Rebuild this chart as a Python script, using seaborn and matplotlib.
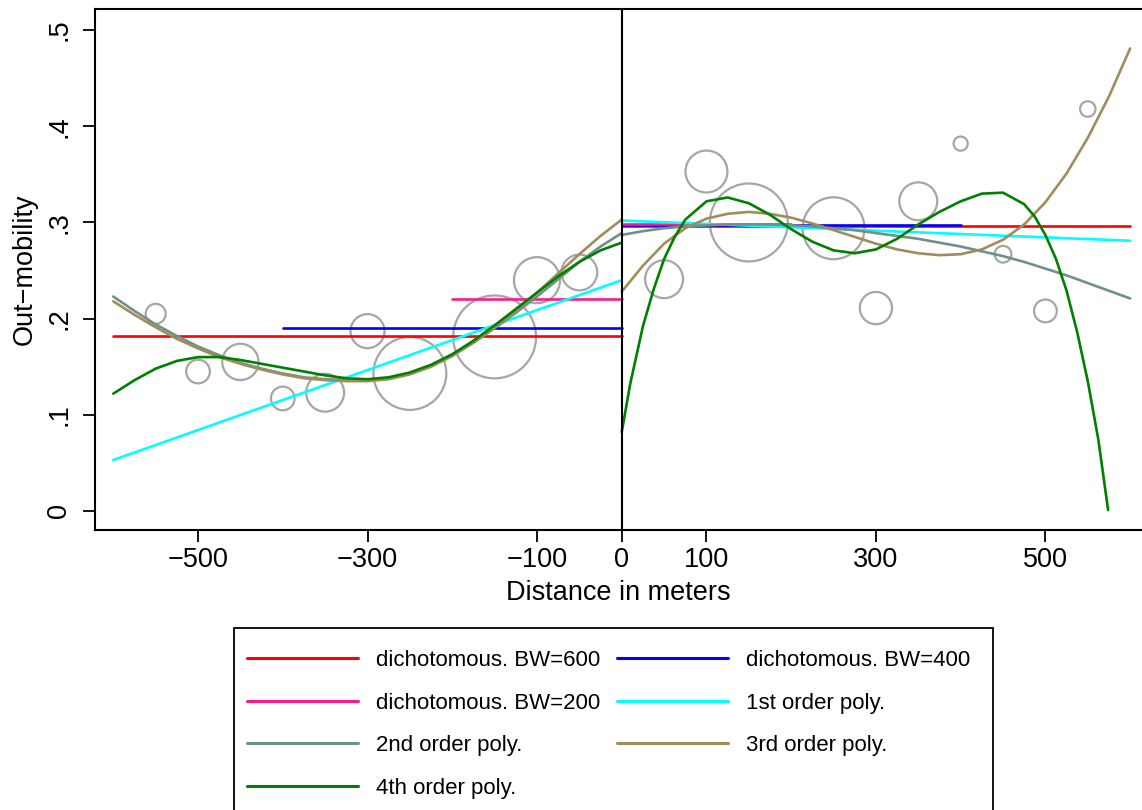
import matplotlib
matplotlib.use("Agg")
import matplotlib.pyplot as plt
import seaborn as sns
from matplotlib.lines import Line2D
from matplotlib.patches import Rectangle

# ----------------------------------------------------------
# Data
# ----------------------------------------------------------
# binned means, weight = observations per 50 m bin
bin_x = [-550, -500, -450, -400, -350, -300, -250, -150, -100, -50,
         50, 100, 150, 250, 300, 350, 400, 450, 500, 550]
bin_y = [0.205, 0.145, 0.155, 0.117, 0.123, 0.187, 0.143, 0.181, 0.240, 0.248,
         0.241, 0.353, 0.300, 0.294, 0.211, 0.322, 0.382, 0.267, 0.208, 0.418]
bin_n = [10, 14, 33, 14, 36, 29, 133, 172, 53, 32,
         36, 44, 152, 96, 26, 36, 5, 7, 13, 6]

# dichotomous (step) fits for three bandwidths
bandwidths = [600, 400, 200]
dich_left = [0.182, 0.190, 0.220]
dich_right = [0.296, 0.297, 0.298]

# linear fit
lin_left_x = [-600, 0]
lin_left_y = [0.053, 0.240]
lin_right_x = [0, 600]
lin_right_y = [0.302, 0.281]

# higher order fits, left of cutoff
left_x = [-600, -575, -550, -525, -500, -475, -450, -425, -400, -375, -350, -325, -300,
          -275, -250, -225, -200, -175, -150, -125, -100, -75, -50, -25, 0]
poly2_left = [0.223, 0.208, 0.194, 0.182, 0.171, 0.162, 0.154, 0.148, 0.143, 0.139, 0.137, 0.136,
              0.136, 0.138, 0.143, 0.151, 0.162, 0.175, 0.190, 0.206, 0.223, 0.241, 0.259, 0.275, 0.289]
poly3_left = [0.218, 0.204, 0.191, 0.179, 0.169, 0.160, 0.153, 0.147, 0.142, 0.138, 0.136, 0.135,
              0.135, 0.137, 0.142, 0.150, 0.161, 0.175, 0.191, 0.208, 0.227, 0.247, 0.267, 0.286, 0.303]
poly4_left = [0.122, 0.136, 0.148, 0.156, 0.160, 0.160, 0.157, 0.153, 0.149, 0.145, 0.141, 0.138,
              0.137, 0.139, 0.144, 0.152, 0.163, 0.177, 0.193, 0.210, 0.227, 0.244, 0.259, 0.271, 0.279]

# higher order fits, right of cutoff
right_x = [0, 25, 50, 75, 100, 125, 150, 175, 200, 225, 250, 275, 300,
           325, 350, 375, 400, 425, 450, 475, 500, 525, 550, 575, 600]
poly2_right = [0.287, 0.291, 0.294, 0.296, 0.297, 0.298, 0.298, 0.298, 0.297, 0.296, 0.294, 0.292, 0.289,
               0.286, 0.283, 0.279, 0.275, 0.270, 0.265, 0.259, 0.252, 0.245, 0.237, 0.229, 0.221]
poly3_right = [0.228, 0.255, 0.278, 0.294, 0.304, 0.309, 0.311, 0.309, 0.305, 0.299, 0.292, 0.285, 0.278,
               0.272, 0.268, 0.266, 0.267, 0.272, 0.282, 0.298, 0.321, 0.351, 0.388, 0.431, 0.481]
poly4_right_x = [0, 10, 25, 37.5, 50, 62.5, 75, 100, 125, 150, 175, 200, 225, 250, 275,
                 300, 325, 350, 375, 400, 425, 450, 475, 487.5, 500, 512.5, 525, 537.5, 550, 562.5, 574]
poly4_right = [0.082, 0.132, 0.192, 0.230, 0.262, 0.285, 0.303, 0.322, 0.326, 0.320, 0.308, 0.293, 0.280,
               0.271, 0.268, 0.272, 0.283, 0.298, 0.311, 0.322, 0.330, 0.331, 0.319, 0.306, 0.287,
               0.262, 0.229, 0.186, 0.135, 0.074, 0.001]

labels = ["dichotomous. BW=600", "dichotomous. BW=400", "dichotomous. BW=200",
          "1st order poly.", "2nd order poly.", "3rd order poly.", "4th order poly."]
colors = ["#ff0000", "#0000ff", "#ff1a8c", "#00ffff", "#6f918a", "#a08d5c", "#008000"]

# ----------------------------------------------------------
# Plot
# ----------------------------------------------------------
sns.set_theme(style="ticks")
plt.rcParams["font.family"] = ["Liberation Sans", "DejaVu Sans"]
plt.rcParams["axes.unicode_minus"] = True
plt.rcParams["text.color"] = "black"
plt.rcParams["axes.labelcolor"] = "black"

W, H = 1142, 810
fig = plt.figure(figsize=(W / 100, H / 100), dpi=100)
ax = fig.add_axes([95 / W, (H - 530) / H, (W - 95) / W, (530 - 9) / H])

LW = 1.9

# circles
smax = 20.7 * max(bin_n)
sns.scatterplot(x=bin_x, y=bin_y, size=bin_n, sizes=(0, smax), size_norm=(0, max(bin_n)),
                marker="o", fc="none", ec="#a6a6a6", linewidth=1.6, legend=False, ax=ax,
                zorder=2)

# dichotomous
for bw, yl, yr, c in zip(bandwidths, dich_left, dich_right, colors[:3]):
    sns.lineplot(x=[-bw, 0], y=[yl, yl], color=c, lw=LW, ax=ax, zorder=3)
    sns.lineplot(x=[0, bw], y=[yr, yr], color=c, lw=LW, ax=ax, zorder=3)

# polynomials
sns.lineplot(x=lin_left_x, y=lin_left_y, color=colors[3], lw=LW, ax=ax, zorder=3)
sns.lineplot(x=lin_right_x, y=lin_right_y, color=colors[3], lw=LW, ax=ax, zorder=3)
for xl, yl, xr, yr, c in [(left_x, poly2_left, right_x, poly2_right, colors[4]),
                          (left_x, poly3_left, right_x, poly3_right, colors[5]),
                          (left_x, poly4_left, poly4_right_x, poly4_right, colors[6])]:
    sns.lineplot(x=xl, y=yl, color=c, lw=LW, sort=False, estimator=None, ax=ax, zorder=3)
    sns.lineplot(x=xr, y=yr, color=c, lw=LW, sort=False, estimator=None, ax=ax, zorder=3)

ax.axvline(0, color="black", lw=1.5, zorder=4)

ax.set_xlim(-621.6, 614)
ax.set_ylim(-0.0198, 0.522)
ax.set_xticks([-500, -300, -100, 0, 100, 300, 500])
ax.set_yticks([0, 0.1, 0.2, 0.3, 0.4, 0.5], labels=["0", ".1", ".2", ".3", ".4", ".5"])
ax.tick_params(axis="both", direction="out", length=8.5, width=1.3, labelsize=19.5,
               colors="black")
ax.tick_params(axis="x", pad=4)
ax.tick_params(axis="y", pad=8, labelrotation=90)
for lbl in ax.get_yticklabels():
    lbl.set_va("center")

for side in ["left", "bottom", "top"]:
    ax.spines[side].set_linewidth(1.5)
    ax.spines[side].set_color("black")
ax.spines["right"].set_visible(False)

ax.set_xlabel("Distance in meters", fontsize=19.5, labelpad=5)
ax.set_ylabel("Out\u2212mobility", fontsize=19.5, labelpad=6)

# legend: column-major order so rows read BW600|BW400, BW200|1st, 2nd|3rd, 4th
order = [0, 2, 4, 6, 1, 3, 5]
handles = [Line2D([], [], color=colors[i], lw=2.2) for i in order]
leg = fig.legend(handles, [labels[i] for i in order], ncol=2,
                 loc="upper left", bbox_to_anchor=(247 / W, (H - 650) / H),
                 borderaxespad=0, fontsize=16, frameon=False, labelcolor="black",
                 handlelength=5.0, handletextpad=0.8,
                 columnspacing=0.75, labelspacing=0.97, borderpad=0)

# legend box runs past the bottom edge of the picture
box = Rectangle((234 / W, -10 / H), (993 - 234) / W, (H - 628 + 10) / H,
                transform=fig.transFigure, fill=False, ec="black", lw=1.3)
fig.add_artist(box)

fig.savefig("out.png", dpi=100)
